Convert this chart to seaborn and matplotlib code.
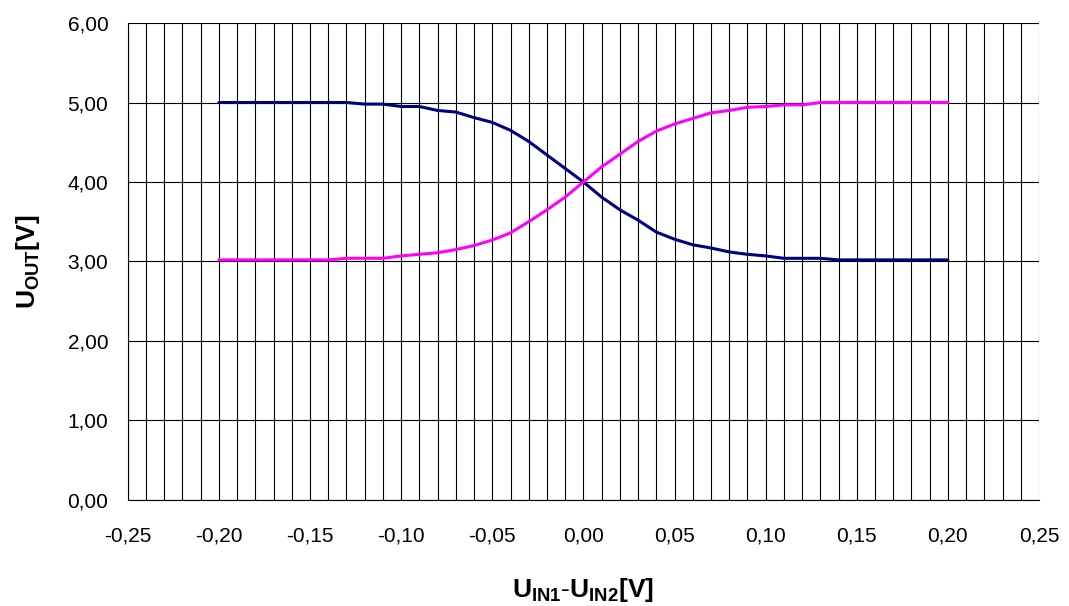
import numpy as np
import pandas as pd
import matplotlib
matplotlib.use("Agg")
import matplotlib.pyplot as plt
from matplotlib.ticker import MultipleLocator, FuncFormatter
import seaborn as sns

# ---- data ----
x_vals = [-0.20, -0.19, -0.18, -0.17, -0.16, -0.15, -0.14, -0.13, -0.12, -0.11,
          -0.10, -0.09, -0.08, -0.07, -0.06, -0.05, -0.04, -0.03, -0.02, -0.01,
          0.00, 0.01, 0.02, 0.03, 0.04, 0.05, 0.06, 0.07, 0.08, 0.09,
          0.10, 0.11, 0.12, 0.13, 0.14, 0.15, 0.16, 0.17, 0.18, 0.19, 0.20]
u_out1 = [5.00, 5.00, 5.00, 5.00, 5.00, 5.00, 5.00, 5.00, 4.98, 4.98,
          4.95, 4.95, 4.90, 4.88, 4.81, 4.75, 4.65, 4.51, 4.34, 4.17,
          4.00, 3.81, 3.65, 3.52, 3.37, 3.28, 3.21, 3.17, 3.12, 3.09,
          3.07, 3.04, 3.04, 3.04, 3.02, 3.02, 3.02, 3.02, 3.02, 3.02, 3.02]
u_out2 = [3.02, 3.02, 3.02, 3.02, 3.02, 3.02, 3.02, 3.04, 3.04, 3.04,
          3.07, 3.09, 3.11, 3.15, 3.20, 3.27, 3.36, 3.50, 3.65, 3.81,
          4.00, 4.19, 4.35, 4.51, 4.64, 4.73, 4.80, 4.87, 4.90, 4.94,
          4.95, 4.97, 4.97, 5.00, 5.00, 5.00, 5.00, 5.00, 5.00, 5.00, 5.00]
series_names = ["U_OUT1", "U_OUT2"]
series_colors = ["#000080", "#FF00FF"]

df = pd.DataFrame({
    "x": x_vals * 2,
    "y": u_out1 + u_out2,
    "s": [series_names[0]] * len(x_vals) + [series_names[1]] * len(x_vals),
})

sns.set_theme(style="white")
plt.rcParams["font.family"] = ["Liberation Sans", "DejaVu Sans"]
plt.rcParams["mathtext.fontset"] = "custom"
plt.rcParams["mathtext.rm"] = "Liberation Sans"
plt.rcParams["mathtext.bf"] = "Liberation Sans:bold"
plt.rcParams["mathtext.it"] = "Liberation Sans:italic"

fig = plt.figure(figsize=(10.69, 6.06), dpi=100)
ax = fig.add_axes([0.1195, 0.175, 0.8525, 0.787])

sns.lineplot(data=df, x="x", y="y", hue="s", palette=dict(zip(series_names, series_colors)),
             linewidth=2.2, legend=False, ax=ax, zorder=3)

ax.set_xlim(-0.25, 0.25)
ax.set_ylim(0, 6)
ax.xaxis.set_major_locator(MultipleLocator(0.05))
ax.xaxis.set_minor_locator(MultipleLocator(0.01))
ax.yaxis.set_major_locator(MultipleLocator(1))

fmt = FuncFormatter(lambda v, p: f"{v:.2f}".replace(".", ",").replace("-0,00", "0,00"))
ax.xaxis.set_major_formatter(fmt)
ax.yaxis.set_major_formatter(fmt)

ax.grid(True, which="major", axis="both", color="#000000", linewidth=0.8)
ax.grid(True, which="minor", axis="x", color="#000000", linewidth=0.8)
ax.set_axisbelow(True)

for side in ["top", "right"]:
    ax.spines[side].set_visible(False)
for side in ["left", "bottom"]:
    ax.spines[side].set_color("#000000")
    ax.spines[side].set_linewidth(0.8)

ax.tick_params(axis="both", which="major", direction="out", length=5, width=0.8,
               color="#000000", labelsize=15, labelcolor="#000000")
ax.tick_params(axis="x", which="minor", length=0)
ax.tick_params(axis="x", which="major", pad=14)
ax.tick_params(axis="y", which="major", pad=9)

ax.set_xlabel(r"$\mathbf{U_{IN1}\text{-}U_{IN2}[V]}$", fontsize=19, color="#000000", labelpad=22)
ax.set_ylabel(r"$\mathbf{U_{OUT}[V]}$", fontsize=19, color="#000000", labelpad=18)

fig.savefig("out.png", dpi=100, facecolor="white")
